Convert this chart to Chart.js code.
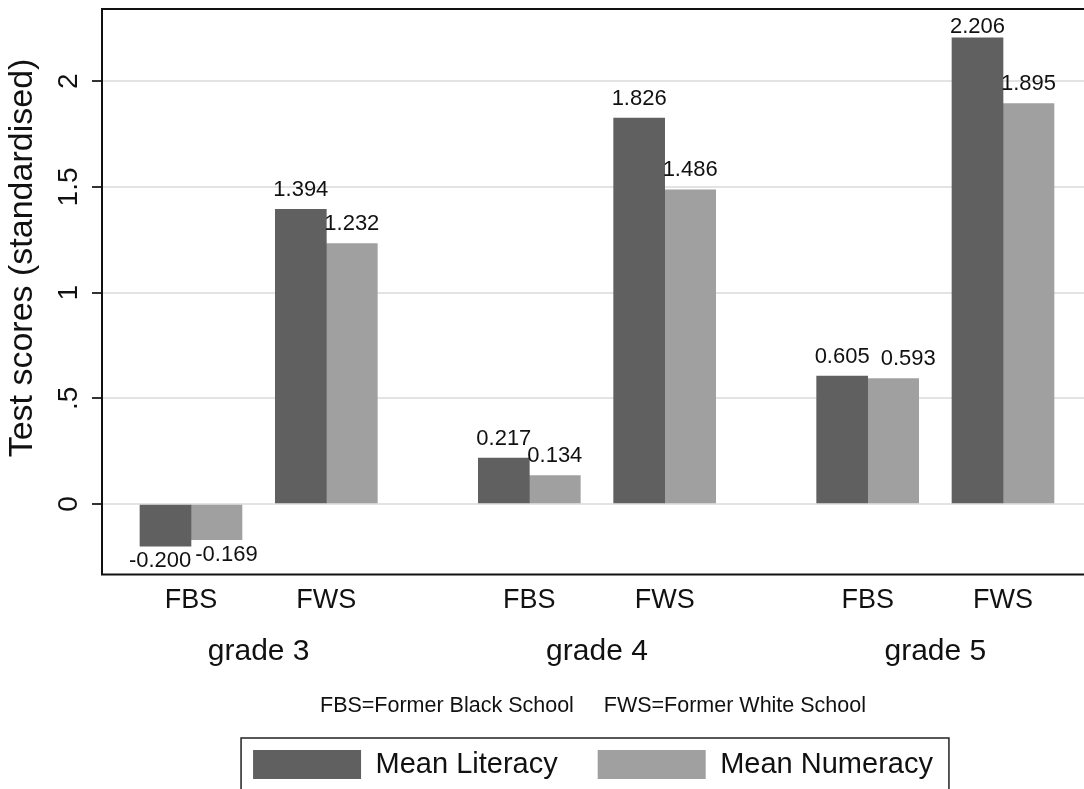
<!DOCTYPE html>
<html><head><meta charset="utf-8">
<script src="https://cdn.jsdelivr.net/npm/chart.js@4.4.1/dist/chart.umd.min.js"></script>
<style>
html,body{margin:0;padding:0;background:#fff;overflow:hidden;}
#wrap{position:relative;width:1084px;height:789px;}
canvas{display:block;}
</style></head><body>
<div id="wrap"><canvas id="c" width="1084" height="789"></canvas></div>
<script>
// ---- data ----
const categories = ['FBS', 'FWS', 'FBS', 'FWS', 'FBS', 'FWS'];
const grades = ['grade 3', 'grade 4', 'grade 5'];
const meanLiteracy = [-0.200, 1.394, 0.217, 1.826, 0.605, 2.206];
const meanNumeracy = [-0.169, 1.232, 0.134, 1.486, 0.593, 1.895];
const seriesNames = ['Mean Literacy', 'Mean Numeracy'];
const yTickValues = [0, 0.5, 1, 1.5, 2];
const yTickLabels = ['0', '.5', '1', '1.5', '2'];
const yTitle = 'Test scores (standardised)';
const footnote = 'FBS=Former Black School     FWS=Former White School';

// ---- layout (category slot positions along x) ----
const slots = [0, 2, 5, 7, 10, 12];
const gradeSlots = [1, 6, 11];

const FONT = "'Liberation Sans', Arial, Helvetica, sans-serif";
Chart.defaults.font.family = FONT;
Chart.defaults.color = '#111';

const frameAndTitle = {
  id: 'frameAndTitle',
  afterDraw(chart) {
    const {ctx, chartArea: a} = chart;
    ctx.save();
    // plot frame
    ctx.strokeStyle = '#111';
    ctx.lineWidth = 2;
    ctx.beginPath();
    ctx.moveTo(a.right + 4, a.top);
    ctx.lineTo(a.left, a.top);
    ctx.lineTo(a.left, a.bottom);
    ctx.lineTo(a.right + 4, a.bottom);
    ctx.stroke();
    // y axis title
    ctx.translate(23, 258);
    ctx.rotate(-Math.PI / 2);
    ctx.fillStyle = '#111';
    ctx.font = '34px ' + FONT;
    ctx.textAlign = 'center';
    ctx.textBaseline = 'middle';
    ctx.fillText(yTitle, 0, 0);
    ctx.restore();
    // legend frame
    const lg = chart.legend;
    if (lg && lg.legendHitBoxes && lg.legendHitBoxes.length) {
      const hb = lg.legendHitBoxes;
      const last = hb[hb.length - 1];
      const l = hb[0].left - 12, t = hb[0].top - 12;
      const r = last.left + last.width + 16, b = hb[0].top + hb[0].height + 12;
      ctx.save();
      ctx.strokeStyle = '#222';
      ctx.lineWidth = 1.5;
      ctx.strokeRect(l, t, r - l, b - t);
      ctx.restore();
    }
  }
};

const valueLabels = {
  id: 'valueLabels',
  afterDatasetsDraw(chart) {
    const {ctx, chartArea: a} = chart;
    ctx.save();
    ctx.font = '22px ' + FONT;
    ctx.fillStyle = '#111';
    ctx.textAlign = 'center';
    ctx.textBaseline = 'alphabetic';
    const digitH = 16;
    const n = chart.data.datasets[0].data.length;
    for (let i = 0; i < n; i++) {
      const items = [];
      chart.data.datasets.forEach((ds, d) => {
        const el = chart.getDatasetMeta(d).data[i];
        const v = ds.data[i].y;
        const txt = v.toFixed(3);
        const w = ctx.measureText(txt).width;
        let base;
        if (v >= 0) {
          base = el.y - 13.5;
          if (base - digitH < a.top + 8) base = a.top + 8 + digitH;
        } else {
          base = el.y + 21;
        }
        items.push({txt, cx: el.x, w, base, neg: v < 0});
      });
      const p = items[0], q = items[1];
      const vOverlap = !(p.base < q.base - digitH || q.base < p.base - digitH);
      const gap = q.neg ? 4 : 11;
      const over = (p.cx + p.w / 2 + gap) - (q.cx - q.w / 2);
      if (vOverlap && over > 0) {
        const share = q.neg ? 0.35 : 0;
        p.cx -= over * share;
        q.cx += over * (1 - share);
      }
      items.forEach(it => ctx.fillText(it.txt, it.cx, it.base));
    }
    ctx.restore();
  }
};

new Chart(document.getElementById('c'), {
  type: 'bar',
  data: {
    datasets: [
      {
        label: seriesNames[0],
        data: meanLiteracy.map((v, i) => ({x: slots[i], y: v})),
        backgroundColor: '#606060',
        borderWidth: 0,
        barThickness: 51
      },
      {
        label: seriesNames[1],
        data: meanNumeracy.map((v, i) => ({x: slots[i], y: v})),
        backgroundColor: '#a0a0a0',
        borderWidth: 0,
        barThickness: 51
      }
    ]
  },
  options: {
    responsive: false,
    animation: false,
    devicePixelRatio: 1,
    layout: {padding: {top: 9, left: 0, right: 0, bottom: 0}},
    scales: {
      x: {
        type: 'linear', position: 'bottom', min: -1.315, max: 13.197, offset: false, weight: 0,
        afterBuildTicks: s => { s.ticks = slots.map(v => ({value: v})); },
        grid: {display: false, drawTicks: false},
        border: {display: false},
        ticks: {
          autoSkip: false, minRotation: 0, maxRotation: 0, padding: 13,
          color: '#111', font: {size: 27, lineHeight: 1},
          callback: (v, i) => categories[i]
        }
      },
      x2: {
        type: 'linear', position: 'bottom', min: -1.315, max: 13.197, offset: false, weight: 1,
        afterBuildTicks: s => { s.ticks = gradeSlots.map(v => ({value: v})); },
        grid: {display: false, drawTicks: false},
        border: {display: false},
        ticks: {
          autoSkip: false, minRotation: 0, maxRotation: 0, padding: 9.5,
          color: '#111', font: {size: 30, lineHeight: 1},
          callback: (v, i) => grades[i]
        }
      },
      y: {
        type: 'linear', min: -0.333, max: 2.342,
        afterBuildTicks: s => { s.ticks = yTickValues.map(v => ({value: v})); },
        afterFit: s => { s.width = 102; },
        grid: {color: '#e3e3e3', lineWidth: 2, drawTicks: true, tickLength: 10, tickColor: '#333', tickWidth: 2},
        border: {display: false},
        ticks: {
          minRotation: 90, maxRotation: 90, crossAlign: 'center', padding: 3.5,
          color: '#111', font: {size: 28, lineHeight: 0.3},
          callback: (v, i) => yTickLabels[i]
        }
      }
    },
    plugins: {
      legend: {
        position: 'bottom', fullSize: false, weight: 1000, align: 'center',
        labels: {boxWidth: 108, boxHeight: 29, padding: 40, color: '#111', font: {size: 29}}
      },
      subtitle: {
        display: true, text: footnote, position: 'bottom', fullSize: false, weight: 500,
        color: '#111', font: {size: 21.5, lineHeight: 0.2, weight: 'normal'},
        padding: {top: 27.9, bottom: 1.4}
      },
      title: {display: false},
      tooltip: {enabled: false}
    }
  },
  plugins: [valueLabels, frameAndTitle]
});
</script>
</body></html>
